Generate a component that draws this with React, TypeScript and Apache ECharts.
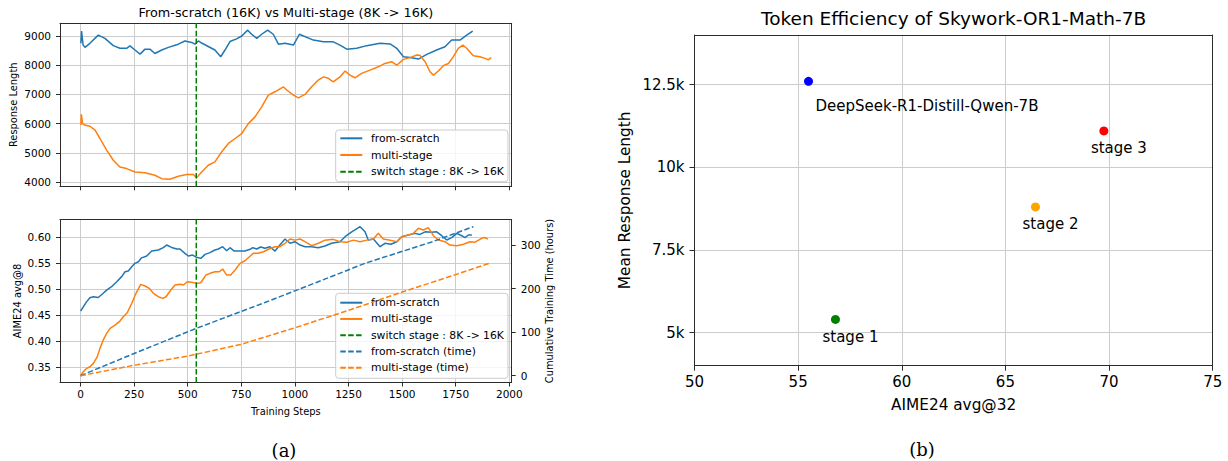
import React, { useEffect, useRef } from "react";
import * as echarts from "echarts";

const FONT = '"DejaVu Sans", Verdana, sans-serif';

// ---------- tick values ----------
const STEP_TICKS = [0, 250, 500, 750, 1000, 1250, 1500, 1750, 2000];
const LENGTH_TICKS = [4000, 5000, 6000, 7000, 8000, 9000];
const ACC_TICKS = [0.35, 0.4, 0.45, 0.5, 0.55, 0.6];
const HOUR_TICKS = [0, 100, 200, 300];
const AIME32_TICKS = [50, 55, 60, 65, 70, 75];
const MEAN_LEN_TICKS = [5000, 7500, 10000, 12500];

// ---------- axis ranges ----------
const STEP_RANGE = [-95.5, 2011];
const LENGTH_RANGE = [3853, 9435];
const ACC_RANGE = [0.3208, 0.6336];
const HOUR_RANGE = [-15.6, 358.5];
const AIME32_RANGE = [50, 75];
const MEAN_LEN_RANGE = [4000, 14000];

const SWITCH_STEP = 540;

// ---------- (a) top: response length ----------
const LENGTH_FROM_SCRATCH = [
  [2, 8750], [5, 9170], [12, 8700], [21, 8610], [44, 8750], [83, 9030], [114, 8920], [153, 8670],
  [184, 8580], [215, 8580], [231, 8660], [254, 8520], [278, 8380], [301, 8550], [324, 8550],
  [347, 8400], [379, 8520], [410, 8610], [456, 8720], [487, 8830], [519, 8780], [534, 8720],
  [550, 8830], [565, 8760], [596, 8640], [627, 8520], [654, 8290], [674, 8520], [697, 8810],
  [728, 8900], [752, 9000], [780, 9200], [798, 9060], [822, 8920], [845, 9060], [873, 9200],
  [899, 9060], [923, 8720], [954, 8750], [993, 8690], [1021, 9060], [1086, 8860], [1133, 8800],
  [1179, 8800], [1210, 8690], [1242, 8550], [1288, 8580], [1335, 8670], [1397, 8750],
  [1444, 8730], [1475, 8580], [1506, 8290], [1537, 8260], [1576, 8210], [1615, 8370],
  [1661, 8520], [1700, 8630], [1731, 8860], [1770, 8860], [1801, 9030], [1829, 9170],
];
const LENGTH_MULTI_STAGE = [
  [2, 5950], [4, 6320], [10, 6000], [20, 5950], [44, 5910], [68, 5775], [91, 5490], [122, 5090],
  [153, 4745], [184, 4515], [215, 4460], [254, 4345], [301, 4320], [347, 4230], [379, 4115],
  [417, 4095], [456, 4195], [495, 4255], [526, 4255], [542, 4150], [565, 4345], [596, 4575],
  [627, 4690], [658, 5030], [690, 5320], [721, 5490], [752, 5660], [783, 6000], [814, 6230],
  [845, 6575], [876, 6975], [907, 7090], [946, 7260], [962, 7150], [993, 6975], [1016, 6880],
  [1047, 7000], [1078, 7260], [1109, 7490], [1133, 7600], [1156, 7550], [1179, 7430],
  [1210, 7600], [1234, 7800], [1257, 7660], [1280, 7570], [1311, 7720], [1350, 7830],
  [1389, 7945], [1420, 8060], [1451, 8120], [1475, 8000], [1506, 8200], [1537, 8260],
  [1568, 8350], [1583, 8340], [1607, 8120], [1630, 7775], [1646, 7660], [1669, 7800],
  [1692, 7980], [1716, 8060], [1739, 8290], [1762, 8580], [1783, 8690], [1801, 8580],
  [1832, 8320], [1863, 8290], [1887, 8235], [1902, 8180], [1915, 8260],
];

// ---------- (a) bottom: AIME24 avg@8 ----------
const ACC_FROM_SCRATCH = [
  [1, 0.458], [13, 0.466], [29, 0.476], [44, 0.4835], [60, 0.4854], [83, 0.484], [106, 0.492],
  [122, 0.498], [145, 0.5046], [169, 0.514], [192, 0.524], [208, 0.5334], [223, 0.5347],
  [239, 0.543], [254, 0.5495], [270, 0.5526], [285, 0.56], [309, 0.5635], [332, 0.573],
  [363, 0.575], [386, 0.5795], [402, 0.5846], [425, 0.58], [449, 0.577], [464, 0.577],
  [487, 0.5687], [503, 0.5635], [523, 0.5654], [542, 0.561], [561, 0.559], [581, 0.5667],
  [604, 0.57], [627, 0.575], [643, 0.577], [663, 0.5814], [682, 0.5737], [697, 0.5795],
  [717, 0.573], [744, 0.573], [767, 0.573], [791, 0.5764], [803, 0.5795], [822, 0.577],
  [840, 0.5808], [860, 0.5783], [884, 0.5814], [907, 0.573], [930, 0.5846], [954, 0.5962],
  [977, 0.588], [1000, 0.591], [1024, 0.5846], [1047, 0.5814], [1078, 0.5814], [1109, 0.5795],
  [1140, 0.5827], [1171, 0.588], [1210, 0.591], [1234, 0.6006], [1265, 0.61], [1304, 0.6198],
  [1327, 0.61], [1342, 0.5942], [1366, 0.596], [1397, 0.5814], [1420, 0.588], [1448, 0.586],
  [1475, 0.591], [1498, 0.6006], [1529, 0.6038], [1560, 0.607], [1583, 0.605], [1607, 0.61],
  [1638, 0.609], [1661, 0.61], [1685, 0.6025], [1708, 0.5942], [1731, 0.5987], [1755, 0.607],
  [1778, 0.6025], [1793, 0.5987], [1809, 0.6038], [1825, 0.6038],
];
const ACC_MULTI_STAGE = [
  [1, 0.3337], [13, 0.3414], [29, 0.348], [44, 0.351], [60, 0.3575], [78, 0.37], [91, 0.3863],
  [106, 0.4022], [122, 0.415], [138, 0.4247], [161, 0.431], [184, 0.4387], [200, 0.447],
  [218, 0.4547], [239, 0.4727], [259, 0.492], [281, 0.5092], [301, 0.506], [321, 0.5015],
  [340, 0.492], [363, 0.4854], [383, 0.4823], [399, 0.4854], [421, 0.4982], [441, 0.5078],
  [464, 0.5092], [480, 0.5078], [498, 0.5142], [519, 0.513], [542, 0.511], [561, 0.5123],
  [585, 0.527], [604, 0.5303], [627, 0.5334], [648, 0.5334], [663, 0.5386], [682, 0.527],
  [701, 0.527], [721, 0.5366], [744, 0.5495], [767, 0.5545], [788, 0.5622], [806, 0.5687],
  [829, 0.5687], [853, 0.5718], [884, 0.578], [907, 0.5814], [930, 0.5814], [954, 0.588],
  [977, 0.5962], [1000, 0.594], [1024, 0.5962], [1047, 0.591], [1078, 0.5833], [1109, 0.588],
  [1140, 0.594], [1179, 0.5955], [1210, 0.591], [1242, 0.59], [1273, 0.594], [1304, 0.591],
  [1335, 0.594], [1366, 0.5962], [1389, 0.607], [1412, 0.5962], [1444, 0.594], [1475, 0.591],
  [1498, 0.6006], [1529, 0.6038], [1552, 0.607], [1576, 0.6167], [1599, 0.6134], [1622, 0.618],
  [1646, 0.6025], [1669, 0.5942], [1700, 0.591], [1723, 0.5846], [1755, 0.5833], [1786, 0.586],
  [1817, 0.591], [1840, 0.59], [1871, 0.5975], [1885, 0.599], [1900, 0.596],
];
const HOURS_FROM_SCRATCH = [
  [0, 0], [250, 51], [542, 109], [860, 168], [1100, 214], [1327, 258], [1638, 307], [1832, 342],
];
const HOURS_MULTI_STAGE = [
  [0, 0], [250, 24], [500, 45], [750, 72], [1000, 110], [1250, 150], [1500, 192], [1750, 232],
  [1906, 258],
];

// ---------- (b) token efficiency ----------
const MODEL_NAMES = ["DeepSeek-R1-Distill-Qwen-7B", "stage 1", "stage 2", "stage 3"];
const MODEL_AIME32 = [55.5, 56.8, 66.45, 69.75];
const MODEL_MEAN_LEN = [12600, 5400, 8800, 11100];
const MODEL_COLORS = ["#0000ff", "#008000", "#ffa500", "#ff0000"];

const BLUE = "#1f77b4";
const ORANGE = "#ff7f0e";
const GREEN = "#008000";
const GRID_COLOR = "#cccccc";
const FRAME_COLOR = "#2b2b2b";
const DASH = [5.5, 2.4];

function valueAxis(o: any) {
  return {
    type: "value",
    gridIndex: o.gridIndex,
    position: o.position,
    min: o.range[0],
    max: o.range[1],
    axisLine: { show: true, onZero: false, lineStyle: { color: FRAME_COLOR, width: 1 } },
    axisTick: {
      show: true,
      inside: false,
      length: o.tickLen ?? 4,
      customValues: o.ticks,
      lineStyle: { color: FRAME_COLOR, width: 1 },
    },
    axisLabel: {
      show: o.showLabel !== false,
      customValues: o.ticks,
      formatter: o.formatter ?? ((v: number) => String(v)),
      color: "#000",
      fontFamily: FONT,
      fontSize: o.fontSize,
      margin: o.margin,
    },
    splitLine: { show: o.split !== false, lineStyle: { color: GRID_COLOR, width: 1 } },
    name: o.name,
    nameLocation: "middle",
    nameGap: o.nameGap,
    nameRotate: o.nameRotate,
    nameTextStyle: { color: "#000", fontFamily: FONT, fontSize: o.nameSize },
  };
}

// plain frame edge (top / right spine) sharing the grid's range
function frameAxis(gridIndex: number, position: string, range: number[]) {
  return {
    type: "value",
    gridIndex,
    position,
    min: range[0],
    max: range[1],
    axisLine: { show: true, onZero: false, lineStyle: { color: FRAME_COLOR, width: 1 } },
    axisTick: { show: false },
    axisLabel: { show: false },
    splitLine: { show: false },
  };
}

function lineSeries(name: string, data: any, color: string, xi: number, yi: number, dashed: boolean, z = 2) {
  return {
    type: "line",
    name,
    data,
    xAxisIndex: xi,
    yAxisIndex: yi,
    symbol: "none",
    showSymbol: false,
    silent: true,
    z,
    lineStyle: { color, width: 1.5, type: dashed ? DASH : "solid" },
    itemStyle: { color },
    emphasis: { disabled: true },
  };
}

const legendBase = {
  orient: "vertical",
  itemWidth: 22,
  itemHeight: 12,
  backgroundColor: "rgba(255,255,255,0.8)",
  borderColor: "#cccccc",
  borderWidth: 1,
  borderRadius: 3,
  selectedMode: false,
  z: 3,
  itemStyle: { opacity: 0, borderWidth: 0 },
  textStyle: {
    color: "#000",
    fontFamily: FONT,
    fontSize: 10.8,
    lineHeight: 12,
    padding: [0, 0, 0, 3.7],
  },
};

export default function App() {
  const ref = useRef<HTMLDivElement>(null);
  useEffect(() => {
    document.body.style.margin = "0";
    document.body.style.background = "#fff";
    const chart = echarts.init(ref.current!, undefined, { renderer: "svg" });
    const fmtK = (v: number) => `${v / 1000}k`;
    const gridBase = { show: false, containLabel: false, outerBoundsMode: "none" };
    const option: any = {
      animation: false,
      backgroundColor: "#fff",
      textStyle: { fontFamily: FONT },
      title: [
        {
          text: "From-scratch (16K) vs Multi-stage (8K -> 16K)",
          left: 285.9,
          top: 12,
          textAlign: "center",
          textVerticalAlign: "middle",
          padding: 0,
          textStyle: { fontSize: 12.8, fontWeight: "normal", color: "#000", fontFamily: FONT },
        },
        {
          text: "Token Efficiency of Skywork-OR1-Math-7B",
          left: 953.6,
          top: 18.5,
          textAlign: "center",
          textVerticalAlign: "middle",
          padding: 0,
          textStyle: { fontSize: 18.5, fontWeight: "normal", color: "#000", fontFamily: FONT },
        },
      ],
      grid: [
        { ...gridBase, left: 60, top: 23.3, width: 451.7, height: 163 },
        { ...gridBase, left: 60, top: 219.5, width: 451.7, height: 163 },
        { ...gridBase, left: 694.5, top: 35, width: 518.2, height: 330.7 },
      ],
      xAxis: [
        valueAxis({ gridIndex: 0, position: "bottom", range: STEP_RANGE, ticks: STEP_TICKS, showLabel: false, fontSize: 10.5, margin: 6 }),
        valueAxis({
          gridIndex: 1, position: "bottom", range: STEP_RANGE, ticks: STEP_TICKS, fontSize: 10.5, margin: 6,
          name: "Training Steps", nameGap: 23.5, nameSize: 9.9,
        }),
        valueAxis({
          gridIndex: 2, position: "bottom", range: AIME32_RANGE, ticks: AIME32_TICKS, fontSize: 15, margin: 9,
          name: "AIME24 avg@32", nameGap: 32, nameSize: 15.3, tickLen: 5,
        }),
        frameAxis(0, "top", STEP_RANGE),
        frameAxis(1, "top", STEP_RANGE),
        frameAxis(2, "top", AIME32_RANGE),
      ],
      yAxis: [
        valueAxis({
          gridIndex: 0, position: "left", range: LENGTH_RANGE, ticks: LENGTH_TICKS, fontSize: 10.5, margin: 9,
          name: "Response Length", nameGap: 41.4, nameSize: 9.9, nameRotate: 90,
        }),
        valueAxis({
          gridIndex: 1, position: "left", range: ACC_RANGE, ticks: ACC_TICKS, fontSize: 10.5, margin: 9,
          formatter: (v: number) => v.toFixed(2),
          name: "AIME24 avg@8", nameGap: 38, nameSize: 9.9, nameRotate: 90,
        }),
        valueAxis({
          gridIndex: 1, position: "right", range: HOUR_RANGE, ticks: HOUR_TICKS, fontSize: 10.5, margin: 9,
          split: false, name: "Cumulative Training Time (hours)", nameGap: 31.3, nameSize: 9.9, nameRotate: 90,
        }),
        valueAxis({
          gridIndex: 2, position: "left", range: MEAN_LEN_RANGE, ticks: MEAN_LEN_TICKS, fontSize: 15, margin: 10,
          formatter: fmtK, name: "Mean Response Length", nameGap: 62, nameSize: 15.3, nameRotate: 90, tickLen: 5,
        }),
        frameAxis(0, "right", LENGTH_RANGE),
        frameAxis(2, "right", MEAN_LEN_RANGE),
      ],
      legend: [
        {
          ...legendBase,
          left: 335.7,
          top: 130,
          itemGap: 4.7,
          padding: [2.3, 4, 4, 3.6],
          data: ["from-scratch", "multi-stage", "switch stage : 8K -> 16K"],
        },
        {
          ...legendBase,
          left: 335.7,
          top: 293.3,
          itemGap: 4.25,
          padding: [3.4, 4, 4.6, 3.6],
          data: [
            "from-scratch",
            "multi-stage",
            "switch stage : 8K -> 16K",
            "from-scratch (time)",
            "multi-stage (time)",
          ],
        },
      ],
      series: [
        lineSeries("from-scratch", LENGTH_FROM_SCRATCH, BLUE, 0, 0, false),
        lineSeries("multi-stage", LENGTH_MULTI_STAGE, ORANGE, 0, 0, false),
        lineSeries(
          "switch stage : 8K -> 16K",
          [[SWITCH_STEP, LENGTH_RANGE[0]], [SWITCH_STEP, LENGTH_RANGE[1]]],
          GREEN, 0, 0, true
        ),
        lineSeries("from-scratch", ACC_FROM_SCRATCH, BLUE, 1, 1, false),
        lineSeries("multi-stage", ACC_MULTI_STAGE, ORANGE, 1, 1, false),
        lineSeries(
          "switch stage : 8K -> 16K",
          [[SWITCH_STEP, ACC_RANGE[0]], [SWITCH_STEP, ACC_RANGE[1]]],
          GREEN, 1, 1, true
        ),
        lineSeries("from-scratch (time)", HOURS_FROM_SCRATCH, BLUE, 1, 2, true, 5),
        lineSeries("multi-stage (time)", HOURS_MULTI_STAGE, ORANGE, 1, 2, true, 5),
        {
          type: "scatter",
          name: "Skywork-OR1-Math-7B",
          xAxisIndex: 2,
          yAxisIndex: 3,
          symbolSize: 9,
          silent: true,
          emphasis: { disabled: true },
          itemStyle: { opacity: 1 },
          data: MODEL_NAMES.map((n, i) => ({
            name: n,
            value: [MODEL_AIME32[i], MODEL_MEAN_LEN[i]],
            itemStyle: { color: MODEL_COLORS[i], opacity: 1 },
            label: i === 0
              ? { align: "left", offset: [7, 24.5] }
              : { align: "center", offset: [15, 17.5] },
          })),
          label: {
            show: true,
            position: "inside",
            formatter: "{b}",
            color: "#000",
            fontFamily: FONT,
            fontSize: 15,
            verticalAlign: "middle",
          },
        },
      ],
      graphic: [
        {
          type: "text",
          x: 284,
          y: 450,
          silent: true,
          style: { text: "(a)", fontFamily: '"DejaVu Serif", serif', fontSize: 18, fill: "#000", align: "center", verticalAlign: "middle" },
        },
        {
          type: "text",
          x: 922,
          y: 449,
          silent: true,
          style: { text: "(b)", fontFamily: '"DejaVu Serif", serif', fontSize: 18, fill: "#000", align: "center", verticalAlign: "middle" },
        },
      ],
    };
    chart.setOption(option);
    return () => chart.dispose();
  }, []);
  return (
    <div
      ref={ref}
      style={{ position: "absolute", left: 0, top: 0, width: 1228, height: 461, background: "#fff" }}
    />
  );
}
